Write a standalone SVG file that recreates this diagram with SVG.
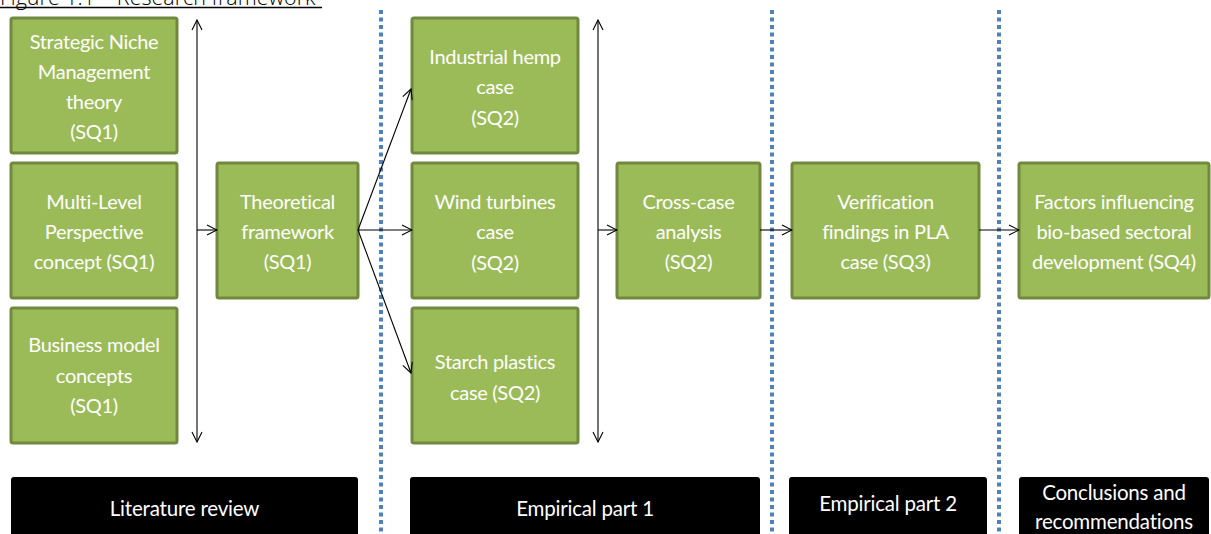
<svg xmlns="http://www.w3.org/2000/svg" width="1211" height="534" viewBox="0 0 1211 534">
  <defs>
    <marker id="head" viewBox="0 0 12 12" refX="11" refY="6" markerWidth="12" markerHeight="12" markerUnits="userSpaceOnUse" orient="auto-start-reverse">
      <path d="M1,1 L11,6 L1,11" fill="none" stroke="#000" stroke-width="1.1"/>
    </marker>
    <style>
      .box { fill: #9BBB59; stroke: #71893F; stroke-width: 3; }
      .bar { fill: #000; }
      .lbl { font-family: Lato, "Liberation Sans", sans-serif; font-size: 20px; fill: #fff; text-anchor: middle; letter-spacing: -0.3px; }
      .bl { font-family: Lato, "Liberation Sans", sans-serif; font-size: 20.5px; fill: #fff; text-anchor: middle; letter-spacing: -0.2px; }
      .sep { stroke: #4F81BD; stroke-width: 4; stroke-dasharray: 4 3.5; fill: none; }
      .arr { stroke: #000; stroke-width: 1.1; fill: none; marker-end: url(#head); }
      .dbl { stroke: #000; stroke-width: 1.1; fill: none; marker-start: url(#head); marker-end: url(#head); }
    </style>
  </defs>
  <rect width="1211" height="534" fill="#fff"/>

  <!-- caption -->
  <g id="caption">
    <text x="0" y="5" font-family="'Open Sans', 'Liberation Sans', sans-serif" font-weight="300" font-size="21.5" fill="#000">Figure 1.1 – Research framework</text>
    <line x1="0" y1="7.5" x2="322" y2="7.5" stroke="#000" stroke-width="1.3"/>
  </g>

  <!-- phase separators -->
  <g id="separators">
    <line class="sep" x1="381" y1="10" x2="381" y2="534"/>
    <line class="sep" x1="772" y1="10" x2="772" y2="534"/>
    <line class="sep" x1="999" y1="10" x2="999" y2="534"/>
  </g>

  <!-- literature review column -->
  <g id="snm">
    <rect class="box" x="11" y="18" width="166" height="135" rx="2"/>
    <text class="lbl"><tspan x="94" y="49">Strategic Niche</tspan><tspan x="94" y="79">Management</tspan><tspan x="94" y="109">theory</tspan><tspan x="94" y="139">(SQ1)</tspan></text>
  </g>
  <g id="mlp">
    <rect class="box" x="11" y="163" width="166" height="135" rx="2"/>
    <text class="lbl"><tspan x="94" y="209">Multi-Level</tspan><tspan x="94" y="239">Perspective</tspan><tspan x="94" y="269">concept (SQ1)</tspan></text>
  </g>
  <g id="bm">
    <rect class="box" x="11" y="308" width="166" height="135" rx="2"/>
    <text class="lbl"><tspan x="94" y="352">Business model</tspan><tspan x="94" y="383">concepts</tspan><tspan x="94" y="413">(SQ1)</tspan></text>
  </g>
  <g id="theory">
    <rect class="box" x="217" y="163" width="141" height="135" rx="2"/>
    <text class="lbl"><tspan x="287.5" y="209">Theoretical</tspan><tspan x="287.5" y="239">framework</tspan><tspan x="287.5" y="269">(SQ1)</tspan></text>
  </g>

  <!-- empirical part 1 -->
  <g id="hemp">
    <rect class="box" x="412" y="18" width="166" height="135" rx="2"/>
    <text class="lbl"><tspan x="495" y="64">Industrial hemp</tspan><tspan x="495" y="94">case</tspan><tspan x="495" y="125">(SQ2)</tspan></text>
  </g>
  <g id="wind">
    <rect class="box" x="412" y="163" width="166" height="135" rx="2"/>
    <text class="lbl"><tspan x="495" y="209">Wind turbines</tspan><tspan x="495" y="239">case</tspan><tspan x="495" y="270">(SQ2)</tspan></text>
  </g>
  <g id="starch">
    <rect class="box" x="412" y="308" width="166" height="135" rx="2"/>
    <text class="lbl"><tspan x="495" y="369">Starch plastics</tspan><tspan x="495" y="400">case (SQ2)</tspan></text>
  </g>
  <g id="crosscase">
    <rect class="box" x="617" y="163" width="143" height="135" rx="2"/>
    <text class="lbl"><tspan x="688.5" y="209">Cross-case</tspan><tspan x="688.5" y="239">analysis</tspan><tspan x="688.5" y="269">(SQ2)</tspan></text>
  </g>

  <!-- empirical part 2 -->
  <g id="verification">
    <rect class="box" x="792" y="163" width="187" height="135" rx="2"/>
    <text class="lbl"><tspan x="885.5" y="209">Verification</tspan><tspan x="885.5" y="239">findings in PLA</tspan><tspan x="885.5" y="269">case (SQ3)</tspan></text>
  </g>

  <!-- conclusions -->
  <g id="factors">
    <rect class="box" x="1019" y="163" width="190" height="135" rx="2"/>
    <text class="lbl"><tspan x="1114" y="209">Factors influencing</tspan><tspan x="1114" y="239">bio-based sectoral</tspan><tspan x="1114" y="269">development (SQ4)</tspan></text>
  </g>

  <!-- phase bars -->
  <g id="phase-literature">
    <rect class="bar" x="11" y="477" width="347" height="60" rx="3"/>
    <text class="bl" x="184.5" y="516">Literature review</text>
  </g>
  <g id="phase-empirical1">
    <rect class="bar" x="410" y="477" width="350" height="60" rx="3"/>
    <text class="bl" x="585" y="516">Empirical part 1</text>
  </g>
  <g id="phase-empirical2">
    <rect class="bar" x="789" y="477" width="198" height="60" rx="3"/>
    <text class="bl" x="888" y="511">Empirical part 2</text>
  </g>
  <g id="phase-conclusions">
    <rect class="bar" x="1019" y="477" width="190" height="60" rx="3"/>
    <text class="bl"><tspan x="1114" y="500">Conclusions and</tspan><tspan x="1114" y="529">recommendations</tspan></text>
  </g>

  <!-- connectors -->
  <g id="connectors">
    <line class="dbl" x1="197" y1="20" x2="197" y2="442"/>
    <line class="arr" x1="197" y1="230" x2="217" y2="230"/>
    <line class="arr" x1="358" y1="230" x2="411" y2="89"/>
    <line class="arr" x1="358" y1="230" x2="412" y2="230"/>
    <line class="arr" x1="358" y1="230" x2="411" y2="373"/>
    <line class="dbl" x1="598" y1="20" x2="598" y2="442"/>
    <line class="arr" x1="598" y1="230" x2="617" y2="230"/>
    <line class="arr" x1="760" y1="230" x2="792" y2="230"/>
    <line class="arr" x1="979" y1="230" x2="1019" y2="230"/>
  </g>
</svg>
